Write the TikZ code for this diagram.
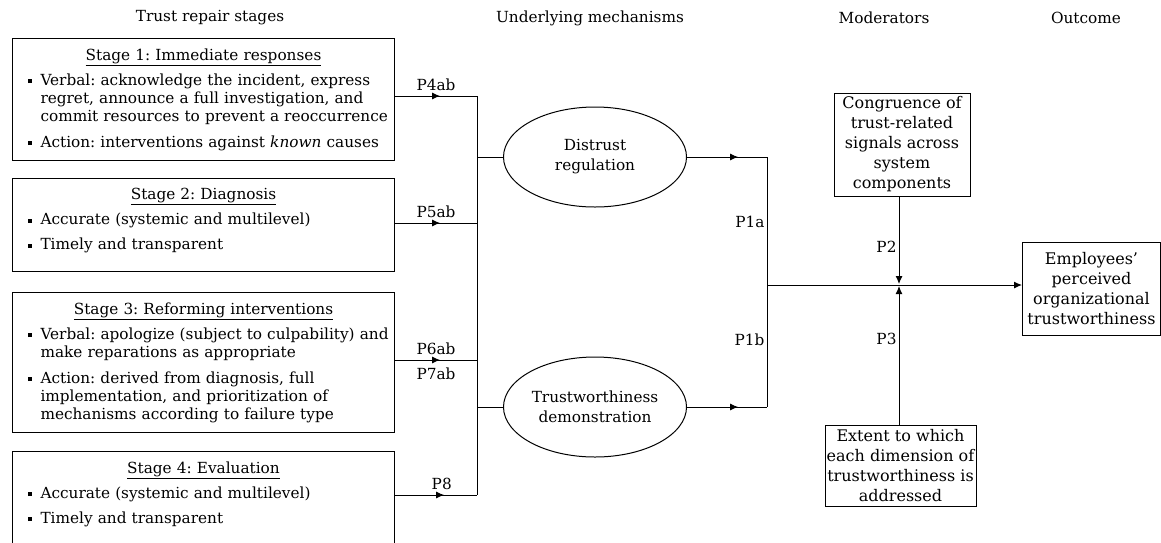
\documentclass[tikz,border=0pt]{standalone}
\usepackage{fontspec}
\setmainfont{DejaVu Serif}
\usetikzlibrary{arrows.meta,positioning,calc,shapes.geometric,decorations.markings}
\tikzset{
    >={Latex[length=8pt,width=7pt]},
    every picture/.style={line width=1pt},
    stagebox/.style={draw,rectangle,anchor=north west,inner sep=0pt,minimum width=382pt},
    stagetext/.style={anchor=north,text width=370pt,align=left,inner xsep=0pt,inner ysep=10pt,font=\fontsize{15.3}{18}\selectfont},
    modbox/.style={draw,rectangle,align=center,inner sep=0pt,font=\fontsize{16}{20}\selectfont},
    mech/.style={draw,ellipse,minimum width=183pt,minimum height=100pt,align=center,inner sep=0pt,font=\fontsize{15.3}{20}\selectfont},
    head/.style={font=\fontsize{15.3}{18}\selectfont},
    lbl/.style={font=\fontsize{15.3}{18}\selectfont,inner sep=2pt},
    midarrow/.style={postaction={decorate},decoration={markings,mark=at position #1 with {\arrow{>}}}},
    midarrow/.default=0.55
}
\frenchspacing
\newcommand{\stagetitle}[1]{{\centering\underline{#1}\par}}
\newcommand{\stageitem}[1]{\par\vspace{7pt}\noindent\makebox[22pt][l]{\hspace{9pt}\rule[0.25ex]{4pt}{4pt}}\begin{tabular}[t]{@{}l@{}}#1\end{tabular}\par}

\begin{document}
\begin{tikzpicture}[x=1pt,y=-1pt]
        \useasboundingbox (0,0) rectangle (1161,542);
        \clip (0,0) rectangle (1161,542);

        % Column headings
        \node[head] (h1) at (210,18) {Trust repair stages};
        \node[head] (h2) at (590,18) {Underlying mechanisms};
        \node[head] (h3) at (884,18) {Moderators};
        \node[head] (h4) at (1086,18) {Outcome};

        % Trust repair stages
        \node[stagebox,minimum height=122pt] (s1) at (12,38) {};
        \node[stagetext] (s1txt) at (s1.north) {
            \stagetitle{Stage 1: Immediate responses}
            \stageitem{Verbal: acknowledge the incident, express\\regret, announce a full investigation, and\\commit resources to prevent a reoccurrence}
            \stageitem{Action: interventions against \emph{known} causes}};

        \node[stagebox,minimum height=93pt] (s2) at (12,178) {};
        \node[stagetext] (s2txt) at (s2.north) {
            \stagetitle{Stage 2: Diagnosis}
            \stageitem{Accurate (systemic and multilevel)}
            \stageitem{Timely and transparent}};

        \node[stagebox,minimum height=140pt] (s3) at (12,292) {};
        \node[stagetext] (s3txt) at (s3.north) {
            \stagetitle{Stage 3: Reforming interventions}
            \stageitem{Verbal: apologize (subject to culpability) and\\make reparations as appropriate}
            \stageitem{Action: derived from diagnosis, full\\implementation, and prioritization of\\mechanisms according to failure type}};

        \node[stagebox,minimum height=100pt] (s4) at (12,451) {};
        \node[stagetext] (s4txt) at (s4.north) {
            \stagetitle{Stage 4: Evaluation}
            \stageitem{Accurate (systemic and multilevel)}
            \stageitem{Timely and transparent}};

        % Underlying mechanisms
        \node[mech] (dr) at (595,157) {Distrust\\regulation};
        \node[mech] (tw) at (595,407) {Trustworthiness\\demonstration};

        % Moderators and outcome
        \node[modbox,minimum width=136pt,minimum height=103pt] (m1) at (902,144.5) {Congruence of\\trust-related\\signals across\\system\\components};
        \node[modbox,minimum width=151pt,minimum height=81pt] (m2) at (900.5,465.5) {Extent to which\\each dimension of\\trustworthiness is\\addressed};
        \node[modbox,anchor=north west,minimum width=138pt,minimum height=93pt] (emp) at (1022,242) {Employees'\\perceived\\organizational\\trustworthiness};

        % Bus points
        \coordinate (b1) at (477,96);
        \coordinate (b5) at (477,223);
        \coordinate (b6) at (477,360);
        \coordinate (b8) at (477,495);
        \coordinate (rb) at (767,285);
        \coordinate (j) at (899,285);

        % Stages to mechanisms
        \draw[midarrow] (s1.east |- b1) -- node[lbl,above=3pt] (p4) {P4ab} (b1);
        \draw[midarrow] (s2.east |- b5) -- node[lbl,above=3pt] (p5) {P5ab} (b5);
        \draw[midarrow] (s3.east |- b6) -- node[lbl,above=3pt] (p6) {P6ab}
            node[lbl,below=5pt] (p7) {P7ab} (b6);
        \draw[midarrow=0.6] (s4.east |- b8) -- node[lbl,above=3pt,pos=0.57] (p8) {P8} (b8);
        \draw (b1) -- (b8);
        \draw (dr.west -| b1) -- (dr.west);
        \draw (tw.west -| b1) -- (tw.west);

        % Mechanisms to outcome
        \draw[midarrow=0.64] (dr.east) -- (dr.east -| rb);
        \draw[midarrow=0.64] (tw.east) -- (tw.east -| rb);
        \draw (dr.east -| rb) -- node[lbl,left,pos=0.26] (p1a) {P1a}
            node[lbl,left,pos=0.73] (p1b) {P1b} (tw.east -| rb);
        \draw[->] (rb) -- (emp.west |- rb);

        % Moderators
        \draw[->,shorten >=1pt] (m1.south -| j) -- node[lbl,left,pos=0.57] (p2) {P2} (j);
        \draw[->,shorten >=1pt] (m2.north -| j) -- node[lbl,left,pos=0.61] (p3) {P3} (j);
\end{tikzpicture}
\end{document}
